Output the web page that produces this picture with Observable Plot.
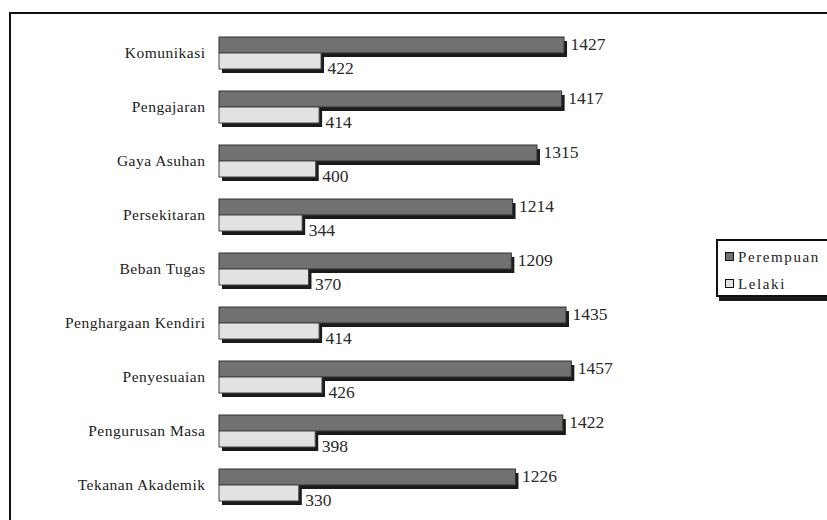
<!DOCTYPE html>
<html>
<head>
<meta charset="utf-8">
<script src="https://cdn.jsdelivr.net/npm/d3@7"></script>
<script src="https://cdn.jsdelivr.net/npm/@observablehq/plot@0.6"></script>
<style>
  html, body { margin: 0; padding: 0; background: #fff; overflow: hidden; }
  #wrap { position: relative; width: 827px; height: 520px; overflow: hidden; font-family: "Liberation Serif", "Times New Roman", serif; }
  #frame { position: absolute; left: 9px; top: 12px; width: 900px; height: 600px; border-left: 2px solid #111; border-top: 2px solid #111; pointer-events: none; }
  #legend { position: absolute; left: 716px; top: 239px; width: 130px; height: 54px; border: 2px solid #111; background: #fff; box-shadow: 3px 4px 0 #1b1b1b; }
  .item { position: absolute; left: 7px; font-size: 15px; letter-spacing: 1.6px; color: #222; line-height: 16px; white-space: nowrap; }
  .sw { display: inline-block; width: 7px; height: 7px; border: 1px solid #111; margin-right: 4px; vertical-align: 1px; }
</style>
</head>
<body>
<div id="wrap">
  <div id="chart"></div>
  <div id="frame"></div>
  <div id="legend"></div>
</div>
<script>
const categories = ["Komunikasi","Pengajaran","Gaya Asuhan","Persekitaran","Beban Tugas","Penghargaan Kendiri","Penyesuaian","Pengurusan Masa","Tekanan Akademik"];
const seriesNames = ["Perempuan","Lelaki"];
const perempuan = [1427,1417,1315,1214,1209,1435,1457,1422,1226];
const lelaki = [422,414,400,344,370,414,426,398,330];
const seriesColors = ["#717171","#e2e2e2"];

const rowsP = categories.map((c, i) => ({cat: c, series: seriesNames[0], value: perempuan[i]}));
const rowsL = categories.map((c, i) => ({cat: c, series: seriesNames[1], value: lelaki[i]}));

const shadow = "#1b1b1b";
const chart = Plot.plot({
  width: 827,
  height: 520,
  marginLeft: 219,
  marginRight: 124.4,
  marginTop: 0,
  marginBottom: 0,
  style: {fontFamily: "'Liberation Serif', 'Times New Roman', serif", background: "#fff", color: "#222"},
  x: {domain: [0, 2000], axis: null},
  y: {domain: categories, range: [24.9, 513.1], paddingInner: 0.41, paddingOuter: 0.205, align: 0.5, axis: null},
  marks: [
    Plot.barX(rowsP, {x: "value", y: "cat", insetBottom: 16, fill: shadow, dx: 3, dy: 4}),
    Plot.barX(rowsP, {x: "value", y: "cat", insetBottom: 16, fill: seriesColors[0], stroke: "#333", strokeWidth: 1}),
    Plot.barX(rowsL, {x: "value", y: "cat", insetTop: 16, fill: shadow, dx: 3, dy: 4}),
    Plot.barX(rowsL, {x: "value", y: "cat", insetTop: 16, fill: seriesColors[1], stroke: "#444", strokeWidth: 1}),
    Plot.text(rowsP, {x: "value", y: "cat", text: d => String(d.value), dx: 6, dy: -9.5, textAnchor: "start", fontSize: 17.5, fill: "#2a2a2a"}),
    Plot.text(rowsL, {x: "value", y: "cat", text: d => String(d.value), dx: 6, dy: 14.5, textAnchor: "start", fontSize: 17.5, fill: "#2a2a2a"}),
    Plot.axisY({tickSize: 0, tickPadding: 14, fontSize: 15.5, label: null, fill: "#222"})
  ]
});
document.getElementById("chart").appendChild(chart);
d3.select(chart).selectAll("[aria-label='y-axis tick label'] text").style("letter-spacing", "0.5px");

const legend = document.getElementById("legend");
seriesNames.forEach((name, i) => {
  const div = document.createElement("div");
  div.className = "item";
  div.style.top = (8 + i * 27) + "px";
  const sw = document.createElement("span");
  sw.className = "sw";
  sw.style.background = seriesColors[i];
  div.appendChild(sw);
  div.appendChild(document.createTextNode(name));
  legend.appendChild(div);
});
</script>
</body>
</html>
